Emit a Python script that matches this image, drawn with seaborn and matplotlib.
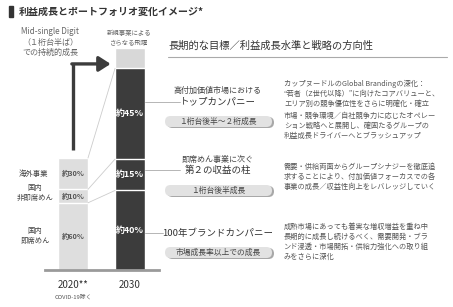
import numpy as np
import pandas as pd
import matplotlib
matplotlib.use("Agg")
import matplotlib.pyplot as plt
from matplotlib.patches import FancyBboxPatch, Rectangle
import seaborn as sns

# data (2020 profit = 100, heights)
years = ["2020", "2030"]
vals_2020 = [60, 12, 28]          # 国内即席めん, 国内非即席めん, 海外事業
vals_2030 = [71, 28, 81]          # 100年ブランド, 第2の柱, トップカンパニー
new_2030 = 18                     # 新規事業
pct_2020 = ["約60%", "約10%", "約30%"]
pct_2030 = ["約40%", "約15%", "約45%"]
seg_names = ["国内\n即席めん", "国内\n非即席めん", "海外事業"]

mid_titles = [("高付加価値市場における", "トップカンパニー", "１桁台後半～２桁成長"),
              ("即席めん事業に次ぐ", "第２の収益の柱", "１桁台後半成長"),
              ("", "100年ブランドカンパニー", "市場成長率以上での成長")]
right_text = [["カップヌードルのGlobal Brandingの深化：",
               "“若者（Z世代以降）”に向けたコアバリューと、",
               "エリア別の競争優位性をさらに明確化・確立",
               "市場・競争環境／自社競争力に応じたオペレー",
               "ション戦略へと展開し、確固たるグループの",
               "利益成長ドライバーへとブラッシュアップ"],
              ["需要・供給両面からグループシナジーを徹底追",
               "求することにより、付加価値フォーカスでの各",
               "事業の成長／収益性向上をレバレッジしていく"],
              ["成熟市場にあっても着実な増収増益を重ね中",
               "長期的に成長し続けるべく、需要開発・ブラ",
               "ンド浸透・市場開拓・供給力強化への取り組",
               "みをさらに深化"]]

sns.set_style("white")
plt.rcParams["font.family"] = ["Noto Sans CJK JP", "DejaVu Sans"]

LIGHT = "#dedede"
DARK = "#3c3c3c"
NEWC = "#d8d8d8"

fig = plt.figure(figsize=(4.53, 3.07), dpi=100)

# ---- bar axes
ax = fig.add_axes([44.5 / 453, (307 - 270) / 307, 114 / 453, 229.6 / 307])
cum20 = np.cumsum(vals_2020)
cum30 = np.cumsum(vals_2030)
layers = [(cum20[-1], cum30[-1] + new_2030, [LIGHT, NEWC])]
for i in range(2, -1, -1):
    layers.append((cum20[i], cum30[i], [LIGHT, DARK]))
for v20, v30, pal in layers:
    df = pd.DataFrame({"year": years, "val": [v20, v30]})
    sns.barplot(data=df, x="year", y="val", hue="year", palette=pal, legend=False,
                width=0.526, edgecolor="white", linewidth=1.0, ax=ax)
ax.set_xlim(-0.5, 1.5)
ax.set_ylim(0, 205)
ax.set_yticks([])
ax.set_xlabel("")
ax.set_ylabel("")
for s in ["left", "right", "top"]:
    ax.spines[s].set_visible(False)
ax.spines["bottom"].set_color("#9a9a9a")
ax.spines["bottom"].set_linewidth(2)
ax.tick_params(axis="x", length=0, pad=7, labelsize=7, labelcolor="#333333")
ax.set_xticks([0, 1])
ax.set_xticklabels(["2020**", "2030"])

# connectors between bars
for a, b in [(cum20[2], cum30[2]), (cum20[1], cum30[1]), (cum20[0], cum30[0])]:
    ax.plot([0.263, 0.737], [a, b], color="#cccccc", lw=0.6, zorder=1)

# percent labels
for i in range(3):
    ax.text(0, cum20[i] - vals_2020[i] / 2, pct_2020[i], ha="center", va="center",
            fontsize=5.2, fontweight="bold", color="#555555")
    ax.text(1, cum30[i] - vals_2030[i] / 2, pct_2030[i], ha="center", va="center",
            fontsize=6.4, fontweight="bold", color="white")

# arrow
ax.plot([0, 0], [107, 184], color=DARK, lw=2.4, solid_capstyle="butt")
ax.annotate("", xy=(0.66, 184), xytext=(-0.02, 184),
            arrowprops=dict(arrowstyle="-|>,head_width=0.45,head_length=0.7",
                            color=DARK, lw=2.4, shrinkA=0, shrinkB=0))

# ---- overlay in pixel coordinates
ov = fig.add_axes([0, 0, 1, 1], facecolor="none")
ov.set_xlim(0, 453)
ov.set_ylim(307, 0)
ov.axis("off")

ov.add_patch(Rectangle((9, 6), 4, 11, color="#333333"))
ov.text(19, 12, "利益成長とポートフォリオ変化イメージ*", fontsize=7.2, fontweight="bold",
        color="#333333", va="center", ha="left")

ov.text(50, 42, "Mid-single Digit\n（１桁台半ば）\nでの持続的成長", fontsize=5.8, color="#666666",
        ha="center", va="center", linespacing=1.25)
ov.text(129, 38, "新規事業による\nさらなる飛躍", fontsize=4.6, color="#666666",
        ha="center", va="center", linespacing=1.3)

ov.text(33, 174, seg_names[2], fontsize=5.3, color="#444444", ha="center", va="center")
ov.text(35, 193, seg_names[1], fontsize=5.3, color="#444444", ha="center", va="center",
        linespacing=1.2)
ov.text(35, 236, seg_names[0], fontsize=5.3, color="#444444", ha="center", va="center",
        linespacing=1.2)
ov.text(73, 297, "COVID-19除く", fontsize=4.2, color="#555555", ha="center", va="center")

# right header
ov.text(168, 46, "長期的な目標／利益成長水準と戦略の方向性", fontsize=7.4, color="#333333",
        ha="left", va="center")
ov.plot([168, 447], [57, 57], color="#aaaaaa", lw=0.8)

# middle column
line_y = [102, 170, 233]
line_x = [180, 180, 163]
sub_y = [90, 159, None]
pill_y = [122, 191, 253]
for k in range(3):
    t1, t2, t3 = mid_titles[k]
    ov.plot([145, line_x[k]], [line_y[k], line_y[k]], color="#aaaaaa", lw=0.6)
    if t1:
        ov.text(218, sub_y[k], t1, fontsize=5.8, color="#444444", ha="center", va="center")
    ov.text(218, line_y[k], t2, fontsize=6.8, color="#333333", ha="center", va="center")
    ov.add_patch(FancyBboxPatch((167, pill_y[k] - 5), 107, 11,
                                boxstyle="round,pad=0,rounding_size=5.5",
                                fc="#a8a8a8", ec="none"))
    ov.add_patch(FancyBboxPatch((165, pill_y[k] - 6), 107, 11,
                                boxstyle="round,pad=0,rounding_size=5.5",
                                fc="#e2e2e2", ec="none"))
    ov.text(218, pill_y[k] - 0.5, t3, fontsize=5.6, color="#444444", ha="center", va="center")

# right column
block_y = [84, 167, 227]
for k in range(3):
    for j, line in enumerate(right_text[k]):
        extra = 2 if (k == 0 and j >= 3) else 0
        ov.text(284, block_y[k] + j * 10 + extra, line, fontsize=5.2, color="#555555",
                ha="left", va="center")

fig.savefig("out.png", dpi=100)
